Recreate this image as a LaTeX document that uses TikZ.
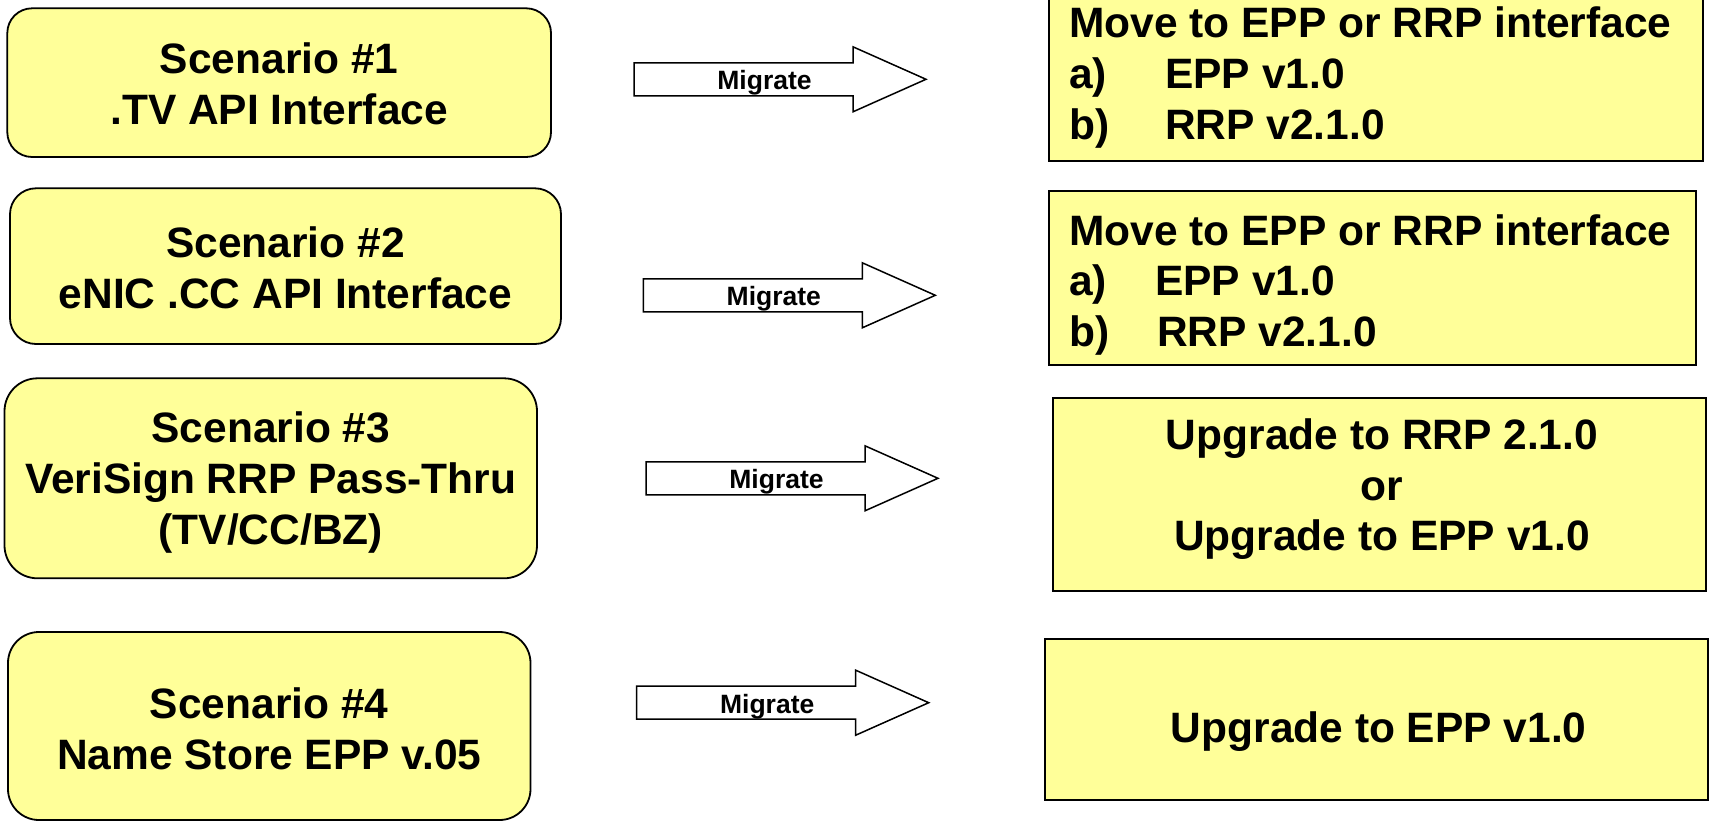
\documentclass[tikz,border=0pt]{standalone}
\usepackage{fontspec}
\setmainfont{Liberation Sans}
\usetikzlibrary{calc}
\definecolor{boxyellow}{HTML}{FFFF99}
\newcommand\txtlines[2]{\begin{tabular}[t]{@{}#1@{}}#2\end{tabular}}
\begin{document}
\begin{tikzpicture}[x=1bp,y=-1bp,
  lbox/.style={draw=black, line width=1.8bp, fill=boxyellow, inner sep=0},
  rbox/.style={draw=black, line width=1.8bp, fill=boxyellow, inner sep=0},
  bigtext/.style={font=\fontsize{42.5bp}{51bp}\selectfont\bfseries, inner sep=0, anchor=base},
  listtext/.style={font=\fontsize{42.5bp}{50.5bp}\selectfont\bfseries, inner sep=0, anchor=base west},
  migarrow/.style={draw=black, line width=1.5bp, fill=white, line join=miter},
  migtext/.style={font=\fontsize{26.5bp}{30bp}\selectfont\bfseries, inner sep=0, anchor=base}
]
\useasboundingbox (0,0) rectangle (1710,822);
\clip (0,0) rectangle (1710,822);
\fill[white] (0,0) rectangle (1710,822);

% left scenario boxes
\node[lbox, rounded corners=24.8bp, minimum width=543.7bp, minimum height=148.7bp] (s1) at (279.15,82.65) {};
\node[lbox, rounded corners=26bp, minimum width=551bp, minimum height=155.7bp] (s2) at (285.5,266.15) {};
\node[lbox, rounded corners=33bp, minimum width=532.5bp, minimum height=200bp] (s3) at (270.75,478.3) {};
\node[lbox, rounded corners=31bp, minimum width=522.5bp, minimum height=188bp] (s4) at (269.25,726) {};

\node[bigtext] (s1t) at (s1 |- 0,73.5) {\txtlines{c}{Scenario \#1\\.TV API Interface}};
\node[bigtext] (s2t) at (s2 |- 0,257) {\txtlines{c}{Scenario \#2\\eNIC .CC API Interface}};
\node[bigtext] (s3t) at (s3 |- 0,442) {\txtlines{c}{Scenario \#3\\VeriSign RRP Pass-Thru\\(TV/CC/BZ)}};
\node[bigtext] (s4t) at (s4 |- 0,718.2) {\txtlines{c}{Scenario \#4\\Name Store EPP v.05}};

% right target boxes
\node[rbox, minimum width=654bp, minimum height=166bp] (r1) at (1376,78) {};
\node[rbox, minimum width=647bp, minimum height=174.3bp] (r2) at (1372.5,277.85) {};
\node[rbox, minimum width=653bp, minimum height=192.4bp] (r3) at (1379.5,494.5) {};
\node[rbox, minimum width=663bp, minimum height=160.7bp] (r4) at (1376.5,719.65) {};

\node[listtext] (r1t) at (1069,38) {\txtlines{l}{Move to EPP or RRP interface\\\makebox[96bp][l]{a)}EPP v1.0\\\makebox[96bp][l]{b)}RRP v2.1.0}};
\node[listtext] (r2t) at (1069,245) {\txtlines{l}{Move to EPP or RRP interface\\\makebox[86bp][l]{a)}EPP v1.0\\\makebox[88bp][l]{b)}RRP v2.1.0}};
\node[bigtext, font=\fontsize{42.5bp}{50.5bp}\selectfont\bfseries] (r3t) at (1382,449.6) {\txtlines{c}{Upgrade to RRP 2.1.0\\or\\Upgrade to EPP v1.0}};
\node[bigtext] (r4t) at (1378.7,742.7) {Upgrade to EPP v1.0};

% migrate block arrows
\coordinate (a1) at (634,79.3);
\coordinate (a2) at (643.3,295.3);
\coordinate (a3) at (646,478.3);
\coordinate (a4) at (636.7,702.7);
\foreach \a in {a1,a2,a3,a4}{
  \draw[migarrow] (\a) ++(0,-16.5) -- ++(219,0) -- ++(0,-16) -- ++(73,32.5)
     -- ++(-73,32.5) -- ++(0,-16) -- ++(-219,0) -- cycle;
}
\node[migtext] (m1) at ($(a1)+(130.5,10.3)$) {Migrate};
\node[migtext] (m2) at ($(a2)+(130.5,10.3)$) {Migrate};
\node[migtext] (m3) at ($(a3)+(130.5,10.3)$) {Migrate};
\node[migtext] (m4) at ($(a4)+(130.5,10.3)$) {Migrate};
\end{tikzpicture}
\end{document}
